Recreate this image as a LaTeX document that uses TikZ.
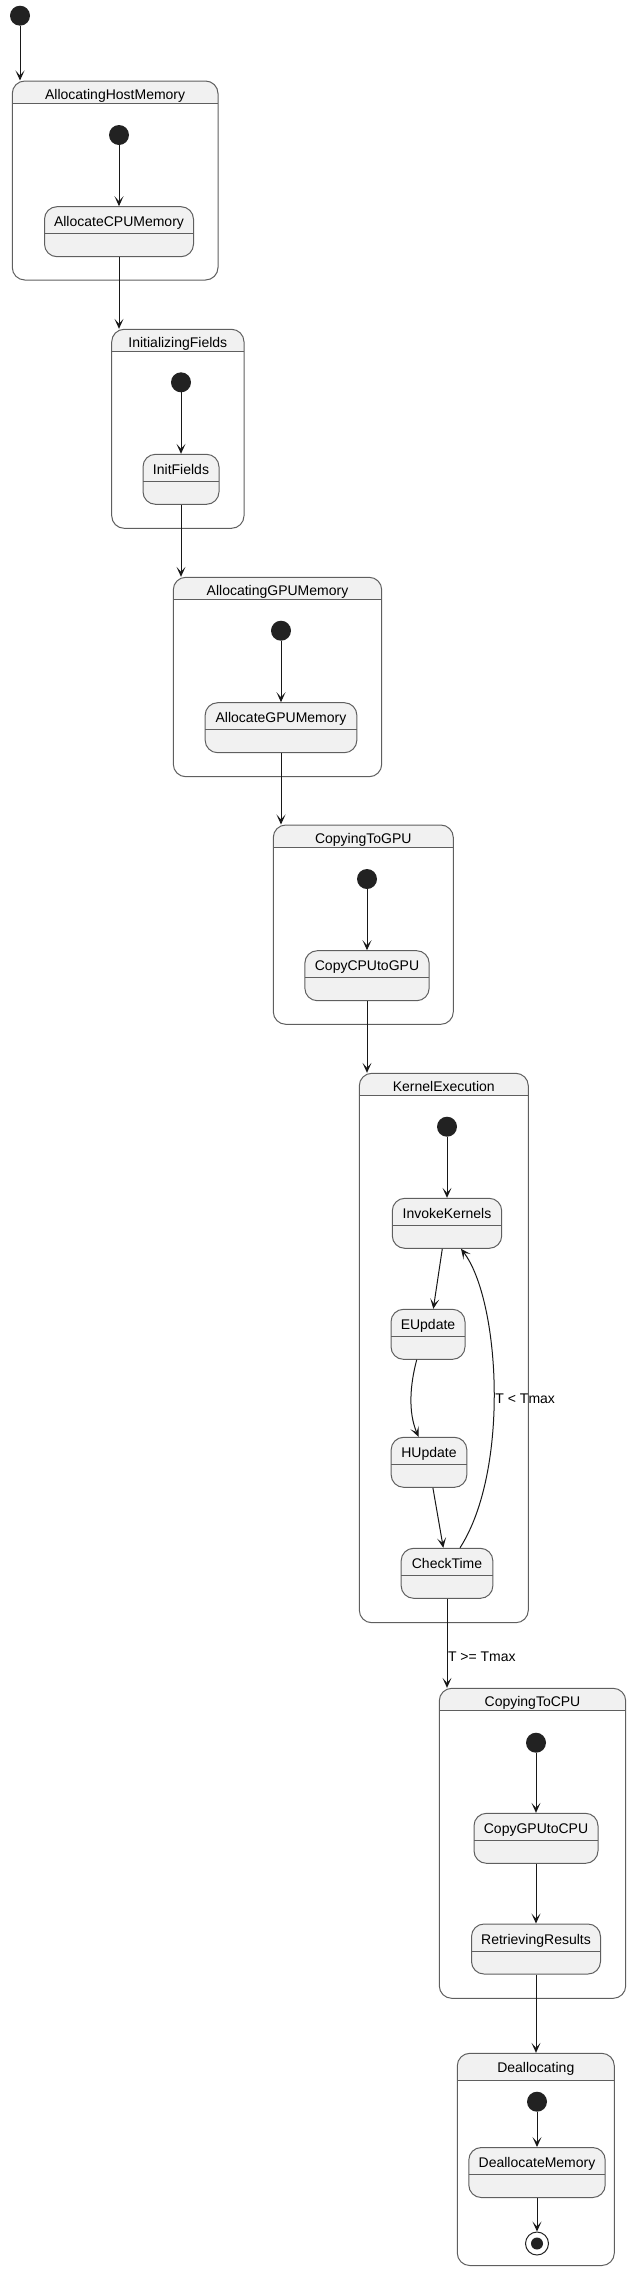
\documentclass[tikz,border=0pt]{standalone}
\usepackage{fontspec}
\setmainfont{Liberation Sans}
\usetikzlibrary{arrows.meta}
\definecolor{statefill}{HTML}{F1F1F1}
\definecolor{stateline}{HTML}{5F5F5F}
\definecolor{ink}{HTML}{181818}
\definecolor{dotfill}{HTML}{222222}
\begin{document}
\begin{tikzpicture}[
  x = 1pt, y = -1pt,
  every node/.style = {
    font = \fontsize{14}{16}\selectfont
  },
  dot/.style = {
    shape = circle,
    fill = dotfill,
    minimum size = 20pt,
    inner sep = 0pt,
    outer sep = 0pt,
  },
  enddot/.style = {
    shape = circle,
    draw = dotfill,
    fill = white,
    line width = 1pt,
    minimum size = 23pt,
    inner sep = 0pt,
    path picture = {\fill[dotfill] (path picture bounding box.center) circle (6pt);}
  },
  statebox/.style = {
    shape = rectangle,
    rounded corners = 12.5pt,
    draw = stateline,
    fill = statefill,
    line width = 1pt,
    minimum height = 50pt,
    inner sep = 0pt,
    text height = 20pt,
    text depth = 30pt,
    path picture = {\draw[stateline, line width = 1pt]
      ([yshift = -27pt]path picture bounding box.north west) --
      ([yshift = -27pt]path picture bounding box.north east);}
  },
  composite/.style = {
    shape = rectangle,
    rounded corners = 12.5pt,
    draw = stateline,
    line width = 1pt,
    inner sep = 0pt,
    path picture = {
      \fill[statefill, sharp corners] (path picture bounding box.north west)
        rectangle ([yshift = -#1]path picture bounding box.north east);
      \draw[stateline, line width = 1pt]
        ([yshift = -#1]path picture bounding box.north west) --
        ([yshift = -#1]path picture bounding box.north east);}
  },
  composite/.default = 22pt,
  title/.style = {
    label = {[anchor = base, yshift = -19pt]north:#1}
  },
  trans/.style = {
    draw = ink,
    line width = 1pt,
    -{Stealth[length = 10pt, width = 9pt, inset = 5pt]}
  }
]
  \useasboundingbox (0, 0) rectangle (631, 2270);

  % composite states
  \node[composite, title = AllocatingHostMemory, minimum width = 205.7pt, minimum height = 199pt] (host) at (115.15, 180.5) {};
  \node[composite, title = InitializingFields, minimum width = 132.3pt, minimum height = 199pt] (init) at (177.85, 428.8) {};
  \node[composite, title = AllocatingGPUMemory, minimum width = 208.4pt, minimum height = 199.4pt] (gpu) at (277.5, 677) {};
  \node[composite, title = CopyingToGPU, minimum width = 180pt, minimum height = 199.3pt] (togpu) at (363.3, 924.65) {};
  \node[composite, title = KernelExecution, minimum width = 169pt, minimum height = 549.4pt] (kernel) at (443.8, 1348) {};
  \node[composite, title = CopyingToCPU, minimum width = 186.4pt, minimum height = 310pt] (tocpu) at (532.5, 1843.3) {};
  \node[composite = 27.3pt, label = {[anchor = base, yshift = -20pt]north:Deallocating}, minimum width = 157pt, minimum height = 212.2pt] (dealloc) at (535.8, 2159.4) {};

  % initial dots
  \node[dot] (s0) at (20, 15.7) {};
  \node[dot] (s1) at (119, 135) {};
  \node[dot] (s2) at (181, 382.3) {};
  \node[dot] (s3) at (281, 630.7) {};
  \node[dot] (s4) at (367, 879) {};
  \node[dot] (s5) at (447, 1126.7) {};
  \node[dot] (s6) at (536, 1742.7) {};
  \node[dot] (s7) at (537, 2101.7) {};

  % simple states
  \node[statebox, minimum width = 149pt] (allocCPU) at (119, 231.7) {AllocateCPUMemory};
  \node[statebox, minimum width = 76pt] (initF) at (181, 479.3) {InitFields};
  \node[statebox, minimum width = 151.7pt] (allocGPU) at (281, 727.7) {AllocateGPUMemory};
  \node[statebox, minimum width = 124.3pt] (cpu2gpu) at (367, 975.7) {CopyCPUtoGPU};
  \node[statebox, minimum width = 109.4pt] (invoke) at (447, 1223.3) {InvokeKernels};
  \node[statebox, minimum width = 74pt] (eupd) at (428, 1334.3) {EUpdate};
  \node[statebox, minimum width = 75.7pt] (hupd) at (429, 1462.3) {HUpdate};
  \node[statebox, minimum width = 91.7pt] (check) at (447, 1573.3) {CheckTime};
  \node[statebox, minimum width = 124pt] (gpu2cpu) at (536, 1838.3) {CopyGPUtoCPU};
  \node[statebox, minimum width = 129pt] (results) at (536, 1949) {RetrievingResults};
  \node[statebox, minimum width = 136.4pt] (freeMem) at (537, 2172.5) {DeallocateMemory};
  \node[enddot] (fin) at (537, 2243.5) {};

  % transitions
  \draw[trans] (s0) -- (s0 |- host.north);
  \draw[trans] (s1) -- (allocCPU);
  \draw[trans] (allocCPU.south) -- (allocCPU.south |- init.north);
  \draw[trans] (s2) -- (initF);
  \draw[trans] (initF.south) -- (initF.south |- gpu.north);
  \draw[trans] (s3) -- (allocGPU);
  \draw[trans] (allocGPU.south) -- (allocGPU.south |- togpu.north);
  \draw[trans] (s4) -- (cpu2gpu);
  \draw[trans] (cpu2gpu.south) -- (cpu2gpu.south |- kernel.north);

  \draw[trans] (s5) -- (invoke);
  \draw[trans] ([xshift = -4.7pt]invoke.south) -- ([xshift = 5.3pt]eupd.north);
  \draw[trans] ([xshift = -11.3pt]eupd.south) .. controls (410, 1385) and (408, 1412) .. ([xshift = -10.5pt]hupd.north);
  \draw[trans] ([xshift = 3.9pt]hupd.south) -- ([xshift = -3.7pt]check.north);
  \draw[trans] ([xshift = 13pt]check.north) .. controls (510, 1470) and (500, 1300) .. ([xshift = 14pt]invoke.south)
    node[pos = 0.47, right, inner sep = 1pt] {T < Tmax};
  \draw[trans] (check.south) -- (check.south |- tocpu.north)
    node[pos = 0.65, right, inner sep = 0.5pt] {T >= Tmax};

  \draw[trans] (s6) -- (gpu2cpu);
  \draw[trans] (gpu2cpu) -- (results);
  \draw[trans] (results.south) -- (results.south |- dealloc.north);
  \draw[trans] (s7) -- (freeMem);
  \draw[trans] (freeMem) -- (fin);
\end{tikzpicture}
\end{document}
